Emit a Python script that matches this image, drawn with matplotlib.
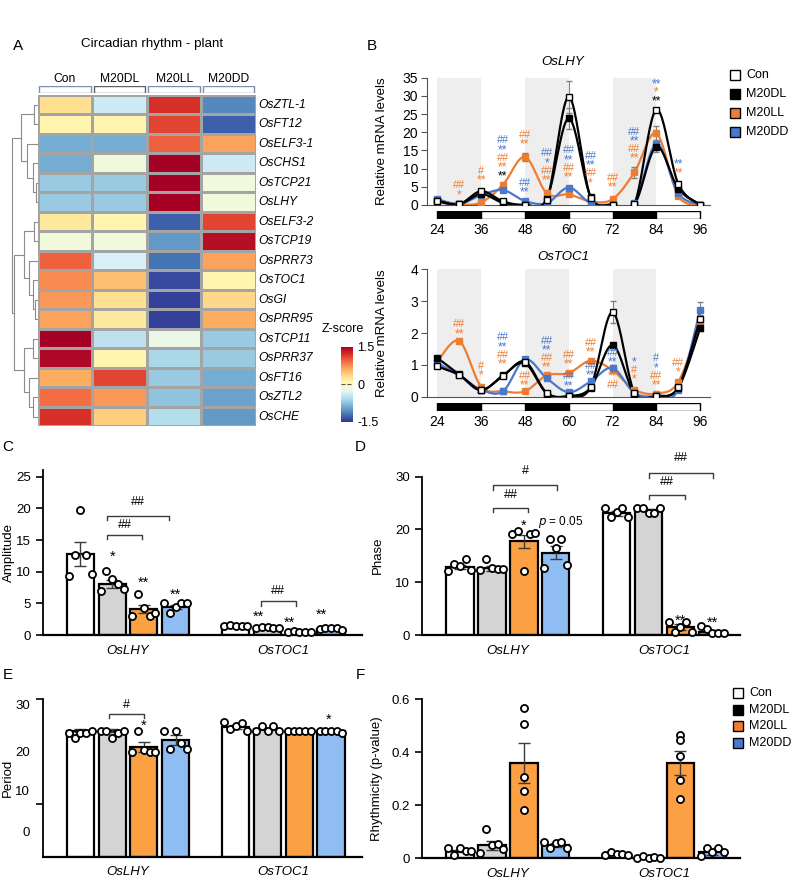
import numpy as np
import matplotlib
matplotlib.use('Agg')
import matplotlib.pyplot as plt
from matplotlib.patches import Rectangle

plt.rcParams['font.family'] = ['Liberation Sans', 'DejaVu Sans']

W, H = 794, 880

# ---------------- data ----------------
genes = ['OsZTL-1', 'OsFT12', 'OsELF3-1', 'OsCHS1', 'OsTCP21', 'OsLHY', 'OsELF3-2', 'OsTCP19',
         'OsPRR73', 'OsTOC1', 'OsGI', 'OsPRR95', 'OsTCP11', 'OsPRR37', 'OsFT16', 'OsZTL2', 'OsCHE']
groups = ['Con', 'M20DL', 'M20LL', 'M20DD']

zscore = np.array([
    [0.30, -0.40, 1.20, -1.10],
    [0.10, 0.10, 1.10, -1.30],
    [-0.90, -0.90, 0.95, 0.65],
    [-0.90, -0.15, 1.50, -0.40],
    [-0.70, -0.70, 1.50, -0.15],
    [-0.70, -0.70, 1.50, -0.15],
    [0.20, 0.10, -1.30, 1.10],
    [-0.15, -0.15, -1.00, 1.40],
    [0.95, -0.35, -1.20, 0.65],
    [0.75, 0.50, -1.40, 0.10],
    [0.70, 0.30, -1.45, 0.35],
    [0.65, 0.20, -1.45, 0.60],
    [1.50, -0.50, -0.20, -0.70],
    [1.45, 0.10, -0.60, -0.70],
    [0.60, 1.10, -0.70, -0.90],
    [0.90, 0.70, -0.75, -0.95],
    [1.20, 0.40, -0.55, -1.00],
])

# dendrogram merges: (node a, node b, height); new nodes numbered from 17
merges = [(0, 1, 3.4), (4, 5, 1.5), (3, 18, 4.5), (2, 19, 11), (17, 20, 17),
          (6, 7, 3.4), (10, 11, 2.7), (9, 23, 5), (8, 24, 8.4), (22, 25, 13.7),
          (12, 13, 5), (15, 16, 5), (14, 28, 8.4), (27, 29, 13.7), (26, 30, 24), (21, 31, 25.5)]

hours = [24, 30, 36, 42, 48, 54, 60, 66, 72, 78, 84, 90, 96]
dark_periods = [(24, 36), (48, 60), (72, 84)]
light_periods = [(36, 48), (60, 72), (84, 96)]

lhy_con = [1.0, 0.2, 3.8, 1.0, 0.0, 1.4, 29.7, 2.0, 0.1, 0.3, 26.2, 5.8, 0.1]
lhy_dl = [1.2, 0.2, 3.0, 0.6, 0.1, 1.7, 23.8, 2.3, 0.1, 0.1, 16.0, 4.5, 0.1]
lhy_ll = [1.4, 0.2, 0.7, 5.6, 13.2, 3.2, 2.9, 1.0, 1.6, 9.0, 19.7, 2.5, 0.1]
lhy_dd = [1.6, 0.3, 2.7, 4.1, 1.1, 0.5, 4.8, 0.5, 0.1, 0.5, 16.8, 3.2, 0.1]
lhy_con_err = [0.2, 0.1, 0.4, 0.2, 0.05, 0.2, 4.5, 0.3, 0.05, 0.1, 0.5, 0.6, 0.05]
lhy_dl_err = [0.2, 0.1, 0.3, 0.1, 0.05, 0.2, 3.0, 0.3, 0.05, 0.05, 1.5, 0.4, 0.05]
lhy_ll_err = [0.2, 0.1, 0.2, 0.5, 1.0, 0.3, 0.3, 0.2, 0.2, 1.5, 2.0, 0.3, 0.05]
lhy_dd_err = [0.2, 0.1, 0.3, 0.4, 0.2, 0.1, 0.5, 0.1, 0.05, 0.1, 1.0, 0.3, 0.05]

toc_con = [0.95, 0.68, 0.22, 0.65, 1.10, 0.12, 0.02, 0.30, 2.65, 0.12, 0.02, 0.30, 2.45]
toc_dl = [1.22, 0.70, 0.20, 0.67, 1.05, 0.10, 0.02, 0.28, 1.62, 0.10, 0.02, 0.28, 2.15]
toc_ll = [1.10, 1.75, 0.32, 0.17, 0.17, 0.67, 0.74, 1.13, 0.83, 0.22, 0.10, 0.46, 2.33]
toc_dd = [1.05, 0.68, 0.22, 0.17, 1.17, 0.58, 0.14, 0.48, 0.90, 0.12, 0.02, 0.22, 2.73]
toc_con_err = [0.05, 0.03, 0.02, 0.03, 0.05, 0.02, 0.01, 0.03, 0.35, 0.02, 0.01, 0.03, 0.1]
toc_dl_err = [0.04, 0.03, 0.02, 0.03, 0.05, 0.02, 0.01, 0.03, 0.08, 0.02, 0.01, 0.03, 0.08]
toc_ll_err = [0.05, 0.05, 0.03, 0.02, 0.02, 0.04, 0.04, 0.05, 0.05, 0.03, 0.02, 0.04, 0.1]
toc_dd_err = [0.05, 0.03, 0.02, 0.02, 0.05, 0.04, 0.02, 0.04, 0.08, 0.02, 0.01, 0.03, 0.25]

# significance marks: (hour, y of stack bottom, texts from top to bottom)
O, B, K = '#EE7D31', '#4A78CC', 'black'
lhy_marks = [
    (30, 1.6, [('##', O), ('*', O)]),
    (36, 5.6, [('#', O), ('**', O)]),
    (42, 6.8, [('##', B), ('**', B), ('##', O), ('**', O), ('**', K)]),
    (48, 15.4, [('##', O), ('**', O)]),
    (48, 2.4, [('##', B), ('**', B)]),
    (54, 5.6, [('##', B), ('*', B), ('##', O), ('**', O)]),
    (60, 6.4, [('##', B), ('**', B), ('##', O), ('**', O)]),
    (66, 4.9, [('##', B), ('**', B), ('##', O), ('*', O)]),
    (72, 3.7, [('##', O), ('**', O)]),
    (78, 11.6, [('##', B), ('**', B), ('##', O), ('**', O)]),
    (84, 27.3, [('**', B), ('*', O), ('**', K)]),
    (90, 7.5, [('**', B), ('**', O)]),
]
toc_marks = [
    (30, 1.84, [('##', O), ('**', O)]),
    (36, 0.54, [('#', O), ('*', O)]),
    (42, 0.88, [('##', B), ('**', B), ('##', O), ('**', O)]),
    (48, 0.22, [('##', O), ('**', O)]),
    (54, 0.78, [('##', B), ('**', B), ('##', O), ('**', O)]),
    (60, 0.88, [('##', O), ('**', O)]),
    (60, 0.21, [('##', B), ('**', B)]),
    (66, 1.26, [('##', O), ('**', O)]),
    (66, 0.54, [('##', B), ('**', B)]),
    (72, 0.94, [('##', B), ('**', B)]),
    (72, 0.22, [('**', O), ('##', O)]),
    (78, 0.40, [('*', B), ('#', O), ('*', O)]),
    (84, 0.22, [('#', B), ('*', B), ('##', O), ('**', O)]),
    (90, 0.64, [('##', O), ('*', O)]),
]

# bar panels: order = LHY Con, DL, LL, DD, TOC1 Con, DL, LL, DD
amp_mean = [12.8, 8.1, 4.1, 4.4, 1.45, 1.15, 0.5, 0.9]
amp_err = [1.9, 0.6, 0.7, 0.35, 0.05, 0.05, 0.05, 0.05]
amp_pts = [[9.3, 12.7, 19.8, 12.7, 9.6], [7.0, 10.1, 8.8, 8.0, 7.3], [3.0, 6.5, 4.2, 3.0, 3.5],
           [5.0, 3.4, 4.5, 5.0, 5.0], [1.5, 1.6, 1.5, 1.5, 1.4], [1.1, 1.2, 1.2, 1.1, 1.1],
           [0.4, 0.7, 0.5, 0.5, 0.4], [0.9, 1.1, 1.1, 1.1, 0.8]]

phase_mean = [12.9, 12.6, 17.7, 15.6, 23.0, 23.6, 1.5, 0.6]
phase_err = [0.4, 0.4, 1.3, 1.2, 0.4, 0.2, 0.5, 0.3]
phase_pts = [[12.2, 13.5, 13.1, 14.4, 12.3], [12.3, 14.4, 12.7, 12.5, 12.5], [19.1, 19.7, 12.2, 19.1, 19.3],
             [12.7, 18.2, 16.5, 18.2, 13.3], [24.0, 22.3, 23.3, 24.0, 22.3], [24.0, 24.0, 23.1, 23.1, 24.0],
             [2.5, 0.6, 1.6, 2.4, 0.6], [1.7, 1.1, 0.4, 0.4, 0.4]]

per_mean = [24.0, 24.0, 20.9, 22.2, 24.7, 24.4, 24.0, 24.0]
per_err = [0.3, 0.3, 0.9, 0.9, 0.4, 0.2, 0.0, 0.05]
per_pts = [[23.6, 22.7, 23.6, 23.6, 24.0], [24.0, 24.0, 22.7, 23.6, 24.0], [20.0, 24.0, 20.4, 20.0, 20.0],
           [24.0, 20.6, 24.0, 21.7, 20.6], [25.7, 24.3, 24.9, 25.4, 24.0], [24.0, 24.9, 24.0, 24.9, 24.0],
           [24.0, 24.0, 24.0, 24.0, 24.0], [24.0, 24.0, 24.0, 24.0, 23.6]]

rh_mean = [0.028, 0.05, 0.36, 0.05, 0.015, 0.006, 0.36, 0.022]
rh_err = [0.004, 0.017, 0.075, 0.007, 0.002, 0.001, 0.045, 0.008]
rh_pts = [[0.038, 0.012, 0.04, 0.028, 0.028], [0.021, 0.11, 0.05, 0.055, 0.034], [0.566, 0.506, 0.308, 0.253, 0.184],
          [0.063, 0.038, 0.057, 0.063, 0.038], [0.013, 0.022, 0.016, 0.016, 0.013], [0.003, 0.01, 0.003, 0.006, 0.0],
          [0.465, 0.446, 0.386, 0.295, 0.225], [0.009, 0.038, 0.022, 0.038, 0.022]]

bar_x = np.array([0, 1, 2, 3, 4.9, 5.9, 6.9, 7.9])
bar_colors = ['white', '#D4D4D4', '#FBA043', '#8FBCF2'] * 2
legend_colors = ['white', 'black', '#EE7D31', '#4A78CC']


def px_axes(fig, left, top, right, bottom):
    return fig.add_axes([left / W, 1 - bottom / H, (right - left) / W, (bottom - top) / H])


def ftext(fig, x, y, s, **kw):
    return fig.text(x / W, 1 - y / H, s, **kw)


def smooth(x, y, n=24):
    # catmull-rom, like the smoothed lines in excel
    x = np.asarray(x, float)
    y = np.asarray(y, float)
    px = np.concatenate([[x[0]], x, [x[-1]]])
    py = np.concatenate([[y[0]], y, [y[-1]]])
    xs, ys = [], []
    t = np.linspace(0, 1, n)
    for i in range(1, len(px) - 2):
        for arr, out in ((px, xs), (py, ys)):
            p0, p1, p2, p3 = arr[i - 1], arr[i], arr[i + 1], arr[i + 2]
            out.extend(0.5 * ((2 * p1) + (-p0 + p2) * t + (2 * p0 - 5 * p1 + 4 * p2 - p3) * t ** 2
                              + (-p0 + 3 * p1 - 3 * p2 + p3) * t ** 3))
    return xs, ys


def legend_px(fig, x, y0, dy, size):
    for i, (g, c) in enumerate(zip(groups, legend_colors)):
        y = y0 + i * dy
        fig.add_artist(Rectangle((x / W, 1 - (y + 5) / H), 10 / W, 10 / H, transform=fig.transFigure,
                                 facecolor=c, edgecolor='black', linewidth=1))
        ftext(fig, x + 16, y, g, fontsize=size, va='center')


fig = plt.figure(figsize=(W / 100, H / 100), dpi=100)

# ---------------- A: heatmap ----------------
ax_hm = px_axes(fig, 37.7, 95, 256, 426.5)
mesh = ax_hm.pcolormesh(np.arange(5), np.arange(18), zscore, cmap='RdYlBu_r', vmin=-1.5, vmax=1.5,
                        edgecolors='#A4A4A4', linewidth=0.8)
ax_hm.set_xlim(0, 4)
ax_hm.set_ylim(17, 0)
ax_hm.axis('off')
for i, g in enumerate(genes):
    ax_hm.text(4.05, i + 0.5, g, style='italic', fontsize=8.7, va='center', ha='left')

ax_hd = px_axes(fig, 37.7, 86, 256, 93)
ax_hd.set_xlim(0, 4)
ax_hd.set_ylim(0, 1)
ax_hd.axis('off')
for i, g in enumerate(groups):
    ec = '#606060' if i == 1 else '#7D8FAE'
    ax_hd.add_patch(Rectangle((i + 0.03, 0), 0.94, 1, facecolor='white', edgecolor=ec, linewidth=1))
    ftext(fig, 37.7 + 54.6 * (i + 0.5), 79, g, fontsize=8.7, ha='center', va='center')

ax_dg = px_axes(fig, 8, 95, 37.7, 426.5)
pos = {i: (i + 0.5, 0.0) for i in range(len(genes))}
for k, (a, b, h) in enumerate(merges):
    ya, ha = pos[a]
    yb, hb = pos[b]
    ax_dg.plot([ha, h, h, hb], [ya, ya, yb, yb], color='#8C8C8C', lw=0.8)
    pos[len(genes) + k] = ((ya + yb) / 2, h)
ax_dg.set_xlim(29.7, 0)
ax_dg.set_ylim(17, 0)
ax_dg.axis('off')

cax = px_axes(fig, 341, 346.7, 353, 421.7)
cb = fig.colorbar(mesh, cax=cax)
cb.outline.set_visible(False)
cb.set_ticks([-1.5, 0, 1.5])
cb.set_ticklabels(['-1.5', '0', '1.5'])
cax.tick_params(length=0, labelsize=9, pad=3)
cax.axhline(0, color='#555555', ls='--', lw=0.8)
ftext(fig, 343, 329, 'Z-score', fontsize=9, ha='center', va='center')

ftext(fig, 152, 44, 'Circadian rhythm - plant', fontsize=9.6, ha='center', va='center')


# ---------------- B: time courses ----------------
def ts_panel(top, bottom, bar_top, ymax, yticks, title, title_y, series, errs, marks):
    ax = px_axes(fig, 426.7, top, 710, bottom)
    for a, b in dark_periods:
        ax.axvspan(a, b, color='#EEEEEE', lw=0, zorder=0)
    styles = [('white', 'black', 'black'), ('black', 'black', 'black'), (O, O, O), (B, B, B)]
    for idx in [2, 3, 1, 0]:
        vals, err = series[idx], errs[idx]
        fc, ec, lc = styles[idx]
        xs, ys = smooth(hours, vals)
        ax.plot(xs, ys, color=lc, lw=1.6, zorder=2)
        ax.errorbar(hours, vals, yerr=err, fmt='none', ecolor='#808080', elinewidth=0.8, capsize=2.5, zorder=3)
        ax.plot(hours, vals, ls='none', marker='s', ms=4.5, mfc=fc, mec=ec, mew=1, zorder=4)
    for hr, yb, texts in marks:
        for k, (s, c) in enumerate(reversed(texts)):
            star_txt = '*' in s
            ax.annotate(s, (hr, yb), xytext=(0, k * 6.3 - (1.4 if star_txt else 0)), textcoords='offset points',
                        ha='center', va='bottom', fontsize=8.8 if star_txt else 7.8, color=c, zorder=5)
    ax.set_xlim(21.1, 98.7)
    ax.set_ylim(0, ymax)
    ax.set_yticks(yticks)
    ax.set_xticks([])
    for s in ['top', 'right']:
        ax.spines[s].set_visible(False)
    ax.spines['left'].set_color('#555555')
    ax.spines['bottom'].set_color('#555555')
    ax.tick_params(axis='y', labelsize=10, length=4, color='#555555', pad=2)
    ax.set_ylabel('Relative mRNA levels', fontsize=9.5)
    ax.yaxis.set_label_coords(-0.137, 0.5)
    ftext(fig, 563, title_y, title, style='italic', fontsize=9.5, ha='center', va='center')

    axb = px_axes(fig, 426.7, bar_top, 710, bar_top + 8)
    axb.set_xlim(21.1, 98.7)
    axb.set_ylim(0, 1)
    for a, b in dark_periods:
        axb.add_patch(Rectangle((a, 0), b - a, 1, facecolor='black', edgecolor='black', lw=1))
    for a, b in light_periods:
        axb.add_patch(Rectangle((a, 0), b - a, 1, facecolor='white', edgecolor='black', lw=1))
    for s in axb.spines.values():
        s.set_visible(False)
    axb.set_yticks([])
    axb.set_xticks(range(24, 97, 12))
    axb.tick_params(axis='x', length=0, labelsize=10, pad=3)
    return ax


ts_panel(77.7, 205, 211, 35, range(0, 36, 5), 'OsLHY', 62,
         [lhy_con, lhy_dl, lhy_ll, lhy_dd], [lhy_con_err, lhy_dl_err, lhy_ll_err, lhy_dd_err], lhy_marks)
ts_panel(269.3, 396.7, 402.7, 4, range(0, 5), 'OsTOC1', 256.7,
         [toc_con, toc_dl, toc_ll, toc_dd], [toc_con_err, toc_dl_err, toc_ll_err, toc_dd_err], toc_marks)
legend_px(fig, 730, 75, 19, 9)


# ---------------- C-F: bar panels ----------------
def bar_panel(left, top, right, bottom, xlim, ylim, means, errs, pts, ylabel, lab_x, spread=None):
    ax = px_axes(fig, left, top, right, bottom)
    ax.bar(bar_x, means, width=0.86, color=bar_colors, edgecolor='black', linewidth=1.6, zorder=2)
    ax.errorbar(bar_x, means, yerr=errs, fmt='none', ecolor='#3C3C3C', elinewidth=1, capsize=4, zorder=3)
    for i, p in enumerate(pts):
        sp = 0.36 if spread is None else spread[i]
        ax.scatter(bar_x[i] + np.linspace(-sp, sp, len(p)), p, s=26, facecolor='white', edgecolor='black',
                   linewidth=1.3, zorder=4, clip_on=False)
    ax.set_xlim(*xlim)
    ax.set_ylim(*ylim)
    for s in ['top', 'right']:
        ax.spines[s].set_visible(False)
    ax.spines['left'].set_linewidth(1.3)
    ax.spines['bottom'].set_linewidth(1.6)
    ax.set_xticks([1.5, 6.4])
    ax.set_xticklabels(['OsLHY', 'OsTOC1'], style='italic', fontsize=9.5)
    ax.tick_params(axis='x', length=0, pad=7)
    ax.tick_params(axis='y', labelsize=9.5, length=5, width=1.2)
    ax.set_ylabel(ylabel, fontsize=9.5)
    ax.yaxis.set_label_coords(lab_x, 0.5)
    return ax


def bracket(ax, x1, x2, y, h, text, ty):
    ax.plot([x1, x1, x2, x2], [y - h, y, y, y - h], color='#3C3C3C', lw=1, clip_on=False)
    ax.text((x1 + x2) / 2, ty, text, ha='center', va='center', fontsize=9)


def star(ax, x, y, s):
    ax.text(x, y, s, ha='center', va='center', fontsize=10.5)


# C
axc = bar_panel(42.7, 470.4, 361.7, 635, (-1.19, 8.87), (0, 26), amp_mean, amp_err, amp_pts,
                'Amplitude', -0.088)
axc.set_yticks(range(0, 26, 5))
bracket(axc, 0.83, 2.8, 18.8, 0.7, '##', 21.0)
bracket(axc, 0.83, 1.95, 15.8, 0.7, '##', 17.4)
bracket(axc, 5.68, 6.8, 5.3, 0.7, '##', 7.0)
star(axc, 1, 12.4, '*')
star(axc, 2, 8.2, '**')
star(axc, 3, 6.4, '**')
star(axc, 5.6, 2.9, '**')
star(axc, 6.6, 2.0, '**')
star(axc, 7.6, 3.2, '**')

# D
axd = bar_panel(421.7, 476.5, 740, 635, (-1.19, 8.76), (0, 30), phase_mean, phase_err, phase_pts,
                'Phase', -0.118)
axd.set_yticks([0, 10, 20, 30])
bracket(axd, 1.05, 3.05, 28.3, 0.8, '#', 31.1)
bracket(axd, 1.05, 2.14, 24.1, 0.8, '##', 26.5)
bracket(axd, 5.9, 7.93, 30.6, 0.8, '##', 33.5)
bracket(axd, 5.9, 7.04, 26.5, 0.8, '##', 28.9)
star(axd, 2, 20.6, '*')
axd.text(2.45, 21.3, '$p$ = 0.05', fontsize=8.5, ha='left', va='center')
star(axd, 6.9, 2.6, '**')
star(axd, 7.9, 2.3, '**')

# E
axe = bar_panel(42.7, 699.2, 361.7, 856.7, (-1.19, 8.87), (0, 30), per_mean, per_err, per_pts,
                'Period', -0.09)
axe.set_yticks([4.76, 12.7, 20.0, 28.9])
axe.set_yticklabels(['0', '10', '20', '30'])
axe.tick_params(axis='y', which='major', length=0, pad=9)
axe.set_yticks([10, 20, 30], minor=True)
axe.tick_params(axis='y', which='minor', length=5, width=1.2)
bracket(axe, 0.9, 2.0, 27.2, 0.8, '#', 28.9)
star(axe, 2, 25.0, '*')
star(axe, 7.82, 26.0, '*')

# F
axf = bar_panel(421.7, 699.3, 740, 858.3, (-1.19, 8.76), (0, 0.6), rh_mean, rh_err, rh_pts,
                'Rhythmicity (p-value)', -0.122, spread=[0.36, 0.36, 0, 0.36, 0.36, 0.36, 0, 0.36])
axf.set_yticks([0, 0.2, 0.4, 0.6])
axf.set_yticklabels(['0', '0.2', '0.4', '0.6'])
legend_px(fig, 733, 693, 16.7, 9)

# panel letters
for s, x, y in [('A', 18, 46), ('B', 372, 46), ('C', 8, 447), ('D', 360, 447), ('E', 8, 675), ('F', 360, 675)]:
    ftext(fig, x, y, s, fontsize=11, ha='center', va='center')

fig.savefig('out.png', dpi=100)
